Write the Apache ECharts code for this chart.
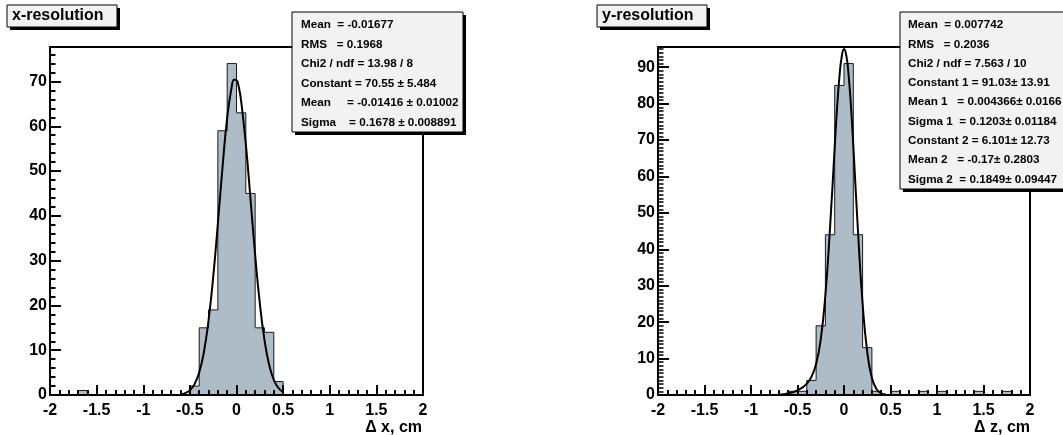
<!DOCTYPE html>
<html><head><meta charset="utf-8">
<script src="https://cdn.jsdelivr.net/npm/echarts@6/dist/echarts.min.js"></script>
<style>html,body{margin:0;padding:0;background:#fff}#c{width:1063px;height:435px}</style>
</head><body><div id="c"></div>
<script>
// ---- data ----
const binLow = [-2.0,-1.9,-1.8,-1.7,-1.6,-1.5,-1.4,-1.3,-1.2,-1.1,
                -1.0,-0.9,-0.8,-0.7,-0.6,-0.5,-0.4,-0.3,-0.2,-0.1,
                 0.0, 0.1, 0.2, 0.3, 0.4, 0.5, 0.6, 0.7, 0.8, 0.9,
                 1.0, 1.1, 1.2, 1.3, 1.4, 1.5, 1.6, 1.7, 1.8, 1.9];
const binHighEnd = 2.0;
const xResCounts = [0,0,0,1,0,0,0,0,0,0,
                    0,0,0,0,0,2,15,19,59,74,
                    63,45,15,14,3,0,0,0,0,0,
                    0,0,0,0,0,0,0,0,0,0];
const zResCounts = [0,0,0,0,0,0,0,0,0,0,
                    0,0,0,0,1,1,4,19,44,85,
                    91,44,13,1,0,1,0,0,1,0,
                    1,0,0,0,1,0,0,1,0,0];
const xFitX = [-0.6,-0.55,-0.5,-0.45,-0.4,-0.35,-0.3,-0.25,-0.2,-0.15,-0.1,-0.05,-0.025,0,0.025,0.05,0.1,0.15,0.2,0.25,0.3,0.35,0.4,0.45,0.5];
const xFitY = [0.16,0.43,1.07,2.43,5.04,9.55,16.6,26.3,38.2,50.8,61.9,69.0,70.4,70.3,68.7,65.6,56.0,43.8,31.3,20.5,12.3,6.75,3.39,1.56,0.65];
const zFitX = [-0.7,-0.65,-0.6,-0.55,-0.5,-0.45,-0.4,-0.35,-0.3,-0.25,-0.2,-0.15,-0.1,-0.075,-0.05,-0.025,0,0.025,0.05,0.075,0.1,0.15,0.2,0.25,0.3,0.35,0.4,0.45];
const zFitY = [0.10,0.21,0.41,0.74,1.25,2.01,3.13,4.99,8.48,15.3,27.5,46.0,68.1,78.6,87.1,92.8,95.0,93.2,87.7,79.2,68.5,45.1,25.1,11.8,4.68,1.59,0.46,0.12];
const xTitle = 'x-resolution';
const zTitle = 'y-resolution';
const xAxisName = 'Δ x, cm';
const zAxisName = 'Δ z, cm';
const xStats = ['Mean  = -0.01677','RMS   = 0.1968','Chi2 / ndf = 13.98 / 8','Constant = 70.55 ± 5.484','Mean     = -0.01416 ± 0.01002','Sigma    = 0.1678 ± 0.008891'];
const zStats = ['Mean  = 0.007742','RMS   = 0.2036','Chi2 / ndf = 7.563 / 10','Constant 1 = 91.03± 13.91','Mean 1   = 0.004366± 0.0166','Sigma 1  = 0.1203± 0.01184','Constant 2 = 6.101± 12.73','Mean 2   = -0.17± 0.2803','Sigma 2  = 0.1849± 0.09447'];
const xYMax = 77.7;
const zYMax = 95.55;

// ---- build ----
const FONT = 'Liberation Sans';
function stepData(counts){ const d = binLow.map((x,i)=>[x, counts[i]]); d.push([binHighEnd, 0]); return d; }
function zip(a,b){ return a.map((x,i)=>[x,b[i]]); }

const lbl = {fontFamily:FONT, fontWeight:'bold', fontSize:16, color:'#000'};
function xAxes(g){
  return [
    {gridIndex:g, type:'value', min:-2, max:2, interval:0.5, position:'bottom', z:5,
     axisLine:{show:true, onZero:false, lineStyle:{color:'#000', width:2}},
     axisTick:{show:true, inside:true, length:10, lineStyle:{color:'#000', width:2}},
     axisLabel:Object.assign({margin:8}, lbl), splitLine:{show:false}},
    {gridIndex:g, type:'value', min:-2, max:2, interval:0.1, position:'bottom', z:5,
     axisLine:{show:false, onZero:false},
     axisTick:{show:true, inside:true, length:5, lineStyle:{color:'#000', width:2}},
     axisLabel:{show:false}, splitLine:{show:false}}
  ];
}
function yAxes(g, ymax, minorStep){
  return [
    {gridIndex:g, type:'value', min:0, max:ymax, interval:10, position:'left', z:5,
     axisLine:{show:true, onZero:false, lineStyle:{color:'#000', width:2}},
     axisTick:{show:true, inside:true, length:11, lineStyle:{color:'#000', width:2}},
     axisLabel:Object.assign({margin:3, showMaxLabel:false}, lbl), splitLine:{show:false}},
    {gridIndex:g, type:'value', min:0, max:ymax, interval:minorStep, position:'left', z:5,
     axisLine:{show:false, onZero:false},
     axisTick:{show:true, inside:true, length:5.5, lineStyle:{color:'#000', width:minorStep < 2 ? 1.5 : 2}},
     axisLabel:{show:false}, splitLine:{show:false}}
  ];
}
function histSeries(xi, yi, counts){
  return {type:'line', xAxisIndex:xi, yAxisIndex:yi, data:stepData(counts), step:'end', symbol:'none',
          lineStyle:{color:'#1a1a1a', width:1}, areaStyle:{color:'#adbcc7', opacity:1}, z:2, silent:true};
}
function fitSeries(xi, yi, fx, fy){
  return {type:'line', xAxisIndex:xi, yAxisIndex:yi, data:zip(fx,fy), smooth:true, symbol:'none',
          lineStyle:{color:'#000', width:2}, z:3, silent:true};
}
function box(x, y, w, h, z){
  return [
    {type:'rect', shape:{x:x+3, y:y+3, width:w, height:h}, style:{fill:'#000'}, z:z},
    {type:'rect', shape:{x:x, y:y, width:w, height:h}, style:{fill:'#f2f2f2', stroke:'#000', lineWidth:1}, z:z+1}
  ];
}
function statText(lines, x, y0, dy, z){
  return lines.map((t,i)=>({type:'text', x:x, y:y0+i*dy, z:z,
    style:{text:t, fontFamily:FONT, fontWeight:'bold', fontSize:11.7, fill:'#000', verticalAlign:'middle'}}));
}
const graphics = [].concat(
  box(7, 5, 110, 22, 100),
  [{type:'text', x:12, y:16, z:102, style:{text:xTitle, fontFamily:FONT, fontWeight:'bold', fontSize:16, fill:'#000', verticalAlign:'middle'}}],
  box(597, 5, 110, 22, 100),
  [{type:'text', x:602, y:16, z:102, style:{text:zTitle, fontFamily:FONT, fontWeight:'bold', fontSize:16, fill:'#000', verticalAlign:'middle'}}],
  box(292, 12, 171, 120, 100),
  statText(xStats, 301, 25, 19.5, 102),
  box(900, 12, 180, 177, 100),
  statText(zStats, 908, 25, 19.3, 102),
  [{type:'text', x:422, y:428, z:102, style:{text:xAxisName, fontFamily:FONT, fontWeight:'bold', fontSize:16, fill:'#000', align:'right', verticalAlign:'middle'}},
   {type:'text', x:1030, y:428, z:102, style:{text:zAxisName, fontFamily:FONT, fontWeight:'bold', fontSize:16, fill:'#000', align:'right', verticalAlign:'middle'}}]
);

const chart = echarts.init(document.getElementById('c'), null, {renderer:'canvas'});
chart.setOption({
  animation:false,
  backgroundColor:'#fff',
  grid:[
    {left:50, top:47, width:373, height:348, show:true, borderColor:'#000', borderWidth:2, backgroundColor:'transparent'},
    {left:658, top:47, width:372, height:348, show:true, borderColor:'#000', borderWidth:2, backgroundColor:'transparent'}
  ],
  xAxis: xAxes(0).concat(xAxes(1)),
  yAxis: yAxes(0, xYMax, 2).concat(yAxes(1, zYMax, 1)),
  series:[
    histSeries(0, 0, xResCounts),
    fitSeries(0, 0, xFitX, xFitY),
    histSeries(2, 2, zResCounts),
    fitSeries(2, 2, zFitX, zFitY)
  ],
  graphic: graphics
});
</script></body></html>
